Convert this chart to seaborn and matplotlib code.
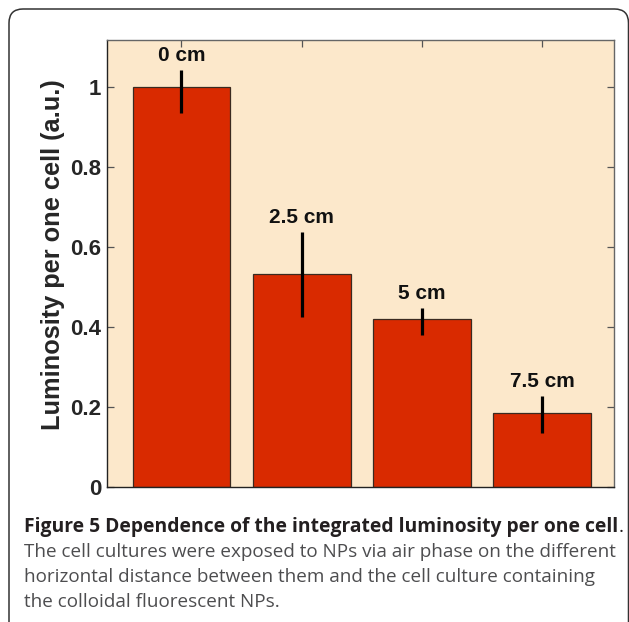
import matplotlib
matplotlib.use("Agg")
import matplotlib.pyplot as plt
from matplotlib.patches import FancyBboxPatch
import seaborn as sns
import pandas as pd

# data
distances = ["0 cm", "2.5 cm", "5 cm", "7.5 cm"]
luminosity = [1.0, 0.533, 0.419, 0.184]
err_low = [0.065, 0.108, 0.039, 0.050]
err_high = [0.043, 0.105, 0.029, 0.044]
yticks = [0, 0.2, 0.4, 0.6, 0.8, 1.0]
ytick_labels = ["0", "0.2", "0.4", "0.6", "0.8", "1"]

BG = "#FCE8CB"
RED = "#D92A00"

sns.set_style("ticks")
plt.rcParams["font.family"] = ["Liberation Sans", "DejaVu Sans"]

df = pd.DataFrame({"distance": distances, "lum": luminosity})

fig = plt.figure(figsize=(6.29, 6.22), dpi=100)
ax = fig.add_axes([0.1701, 0.2170, 0.9762 - 0.1701, 0.9357 - 0.2170])

sns.barplot(data=df, x="distance", y="lum", color=RED, saturation=1,
            errorbar=None, width=0.815, edgecolor="#3a2a20", linewidth=0.9, ax=ax)

pos = list(range(len(distances)))
ax.errorbar(pos, luminosity, yerr=[err_low, err_high], fmt="none",
            ecolor="black", elinewidth=2.3, capsize=0, zorder=5)

for i, lab in enumerate(distances):
    ax.text(pos[i], luminosity[i] + err_high[i] + 0.013, lab, ha="center",
            va="bottom", fontsize=15, fontweight="bold", color="#111111")

ax.set_facecolor(BG)
ax.set_xlim(-0.62, 3.6)
ax.set_ylim(0, 1.1175)
ax.set_yticks(yticks)
ax.set_yticklabels(ytick_labels, fontsize=16, fontweight="bold")
ax.set_xticks(pos)
ax.set_xticklabels([])
ax.set_xlabel("")
ax.set_ylabel("Luminosity per one cell (a.u.)", fontsize=18.3, fontweight="bold")
ax.yaxis.set_label_coords(-0.083, 0.519)
ax.tick_params(axis="both", direction="in", length=5, width=0.9, color="#555555",
               top=True, right=True, pad=4)
for s in ax.spines.values():
    s.set_color("#666666")
    s.set_linewidth(1.0)
ax.spines["bottom"].set_color("#222222")
ax.spines["left"].set_color("#222222")

# rounded frame around the figure panel
frame = FancyBboxPatch((0.09, -0.2), 6.195, 6.33,
                       boxstyle="round,pad=0,rounding_size=0.14",
                       transform=fig.dpi_scale_trans, fill=False,
                       edgecolor="#333333", linewidth=1.1)
fig.add_artist(frame)

# caption
W, H = 629, 622
cap_x = 24 / W
t1 = fig.text(cap_x, 1 - 532 / H,
              "Figure 5 Dependence of the integrated luminosity per one cell",
              family="Open Sans", fontweight="bold", fontsize=13.9,
              color="#231f20", va="baseline")
fig.canvas.draw()
bb = t1.get_window_extent()
fig.text(bb.x1 / W, 1 - 532 / H, ".", family="Open Sans", fontsize=13.9,
         color="#231f20", va="baseline")
body = ["The cell cultures were exposed to NPs via air phase on the different",
        "horizontal distance between them and the cell culture containing",
        "the colloidal fluorescent NPs."]
for k, line in enumerate(body):
    fig.text(cap_x, 1 - (557 + 25 * k) / H, line, family="Open Sans",
             fontsize=13.55, color="#4d4d4f", va="baseline")

fig.savefig("out.png", dpi=100)
